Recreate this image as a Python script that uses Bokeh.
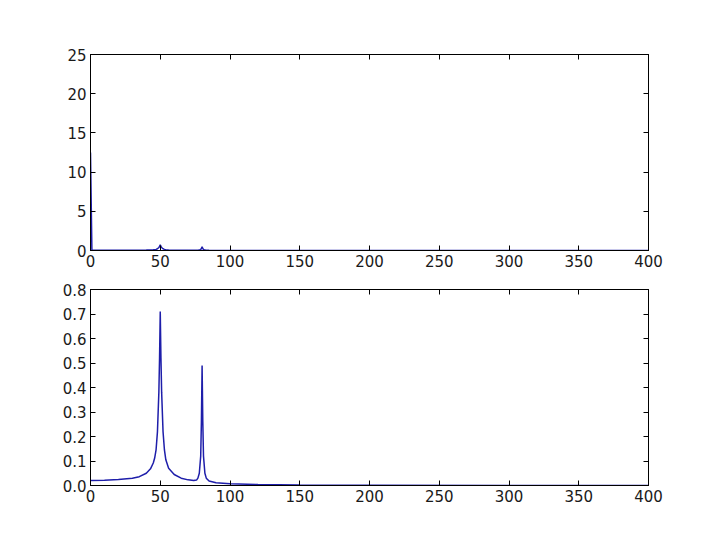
from bokeh.plotting import figure
from bokeh.layouts import column
from bokeh.models import (Range1d, FixedTicker, LinearAxis, PrintfTickFormatter,
                          CustomLabelingPolicy)
from bokeh.embed import file_html
from bokeh.resources import INLINE

# Frequency-domain amplitude
freq = [0, 10, 20, 30, 35, 40, 43, 45, 46, 47, 48, 49, 49.5, 50, 50.5, 51, 52, 53, 54,
        56, 60, 65, 70, 74, 76, 77, 78, 79, 79.5, 80, 80.5, 81, 82, 83, 85, 90, 100,
        120, 150, 200, 300, 400]
amp = [0.020, 0.021, 0.024, 0.030, 0.036, 0.050, 0.068, 0.092, 0.112, 0.145, 0.22, 0.38,
       0.52, 0.71, 0.52, 0.38, 0.22, 0.145, 0.105, 0.07, 0.045, 0.030, 0.023, 0.020, 0.022,
       0.030, 0.05, 0.12, 0.26, 0.49, 0.26, 0.12, 0.05, 0.030, 0.018, 0.011, 0.007,
       0.004, 0.002, 0.001, 0.0005, 0.0003]

# Top panel includes DC component at f=0
freq_top = [0, 1] + freq[1:]
amp_top = [12.5, 0.020] + amp[1:]

x_ticks = [0, 50, 100, 150, 200, 250, 300, 350, 400]
y_ticks_top = [0, 5, 10, 15, 20, 25]
y_ticks_bot = [0.0, 0.1, 0.2, 0.3, 0.4, 0.5, 0.6, 0.7, 0.8]

LINE = "#1e1eaa"
FONT = "DejaVu Sans"
FS = "15px"

HIDE = "const n = indices.size; for (let i = 0; i < n; i++) { indices.unset(i) } return indices"


def style(p, yticks, yfmt):
    p.toolbar_location = None
    p.xgrid.visible = False
    p.ygrid.visible = False
    p.outline_line_color = "black"
    p.outline_line_width = 1
    p.background_fill_color = "white"
    p.border_fill_color = "white"
    for ax in p.xaxis:
        ax.ticker = FixedTicker(ticks=x_ticks)
    for ax in p.yaxis:
        ax.ticker = FixedTicker(ticks=yticks)
        ax.formatter = PrintfTickFormatter(format=yfmt)
    for ax in list(p.xaxis) + list(p.yaxis):
        ax.major_tick_in = 5
        ax.major_tick_out = 0
        ax.minor_tick_in = 0
        ax.minor_tick_out = 0
        ax.axis_line_color = "black"
        ax.major_tick_line_color = "black"
        ax.major_label_text_font = FONT
        ax.major_label_text_font_size = FS
        ax.major_label_text_color = "#1a1a1a"
        ax.major_label_standoff = 4
    # mirrored ticks on top and right (no labels)
    top = LinearAxis(ticker=FixedTicker(ticks=x_ticks), major_tick_in=5, major_tick_out=0,
                     minor_tick_in=0, minor_tick_out=0,
                     major_label_policy=CustomLabelingPolicy(code=HIDE),
                     major_label_standoff=0, axis_line_color="black")
    right = LinearAxis(ticker=FixedTicker(ticks=yticks), major_tick_in=5, major_tick_out=0,
                       minor_tick_in=0, minor_tick_out=0,
                       major_label_policy=CustomLabelingPolicy(code=HIDE),
                       major_label_standoff=0, axis_line_color="black")
    p.add_layout(top, "above")
    p.add_layout(right, "right")


p1 = figure(frame_width=558, frame_height=196, output_backend="svg", toolbar_location=None,
            x_range=Range1d(0, 400), y_range=Range1d(0, 25),
            min_border_left=90, min_border_top=54, min_border_right=56, min_border_bottom=10)
p1.line(freq_top, amp_top, line_color=LINE, line_width=1.5)
style(p1, y_ticks_top, "%d")

p2 = figure(frame_width=558, frame_height=196, output_backend="svg", toolbar_location=None,
            x_range=Range1d(0, 400), y_range=Range1d(0, 0.8),
            min_border_left=90, min_border_top=20, min_border_right=56, min_border_bottom=30)
p2.line(freq, amp, line_color=LINE, line_width=1.5)
style(p2, y_ticks_bot, "%.1f")

layout = column(p1, p2, spacing=0)

open("out.html", "w").write(file_html(layout, INLINE))
